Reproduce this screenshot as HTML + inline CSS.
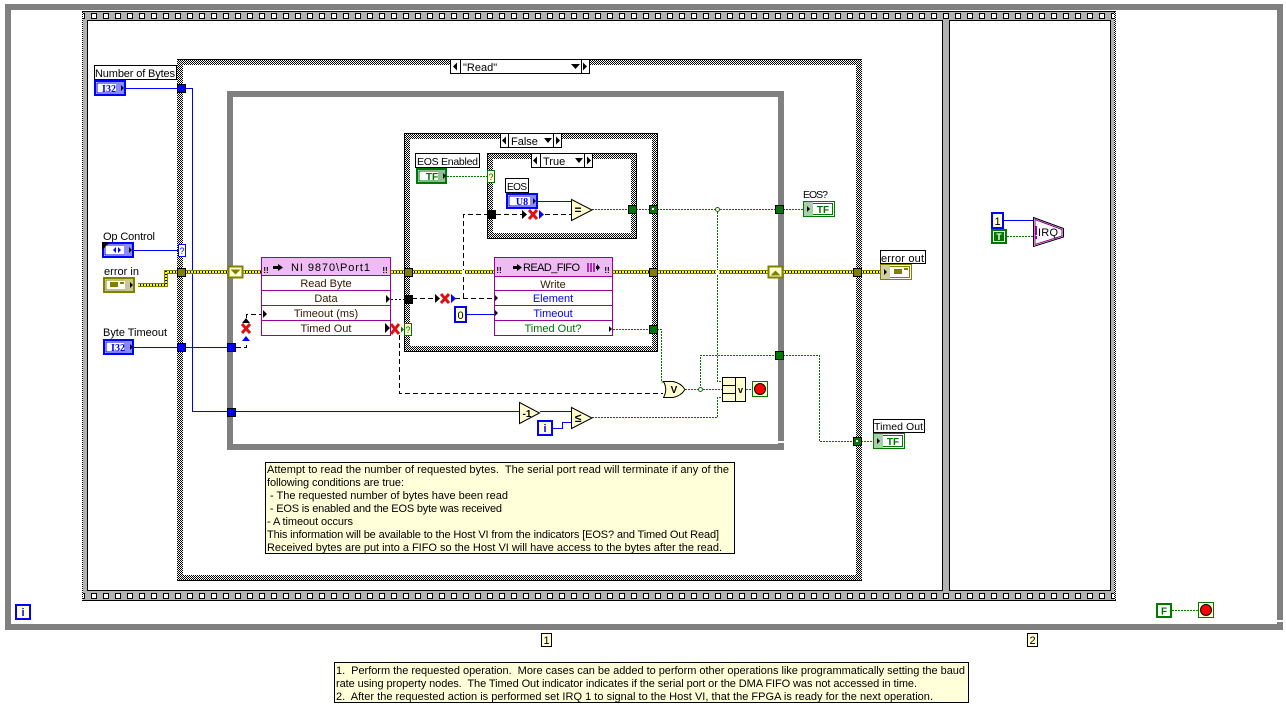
<!DOCTYPE html>
<html>
<head>
<meta charset="utf-8">
<style>
html,body{margin:0;padding:0;background:#fff;width:1286px;height:711px;overflow:hidden}
svg{display:block}
text{font-family:"Liberation Sans",sans-serif;font-size:11px;fill:#000;white-space:pre}
.c{text-anchor:middle}
.n{font-size:11px;fill:#000}
.b{fill:#0000ff}
.g{fill:#007000}
.tm{font-family:"Liberation Serif",serif;font-weight:bold;font-size:10px;text-anchor:middle}
.w,.d,.k{fill:none}
.w{stroke:#0000ff;stroke-width:1}
.d{stroke:#007800;stroke-width:1;stroke-dasharray:2 1}
.k{stroke:#000;stroke-width:1;stroke-dasharray:5 3}
.f{stroke:#000;stroke-width:1;stroke-dasharray:2 2}
.box{fill:#fff;stroke:#000}
.cm{fill:#ffffd9;stroke:#000}
.p{fill:#ffffd0;stroke:#000}
</style>
</head>
<body>
<svg width="1286" height="711" viewBox="0 0 1286 711" xmlns="http://www.w3.org/2000/svg">
<defs>
<pattern id="ch" width="2" height="2" patternUnits="userSpaceOnUse">
<rect width="2" height="2" fill="#fff" shape-rendering="crispEdges"/><rect width="1" height="1" fill="#000" shape-rendering="crispEdges"/><rect x="1" y="1" width="1" height="1" fill="#000" shape-rendering="crispEdges"/>
</pattern>
<pattern id="hT" x="943" y="12" width="12" height="8" patternUnits="userSpaceOnUse">
<rect x="0.5" y="1.5" width="5" height="5" fill="#fff" stroke="#000"/>
</pattern>
<pattern id="hB" x="943" y="592" width="12" height="8" patternUnits="userSpaceOnUse">
<rect x="0.5" y="1.5" width="5" height="5" fill="#fff" stroke="#000"/>
</pattern>
</defs>
<rect width="1286" height="711" fill="#fff"/>

<!-- outer while loop -->
<rect x="8" y="7" width="1272" height="620" fill="#fff" stroke="#808080" stroke-width="6" shape-rendering="crispEdges"/>
<rect x="1277" y="620" width="6" height="2" fill="#fff"/>

<!-- sequence -->
<rect x="82.500" y="11.500" width="1033" height="589" fill="#b2b2b2" stroke="#000" shape-rendering="crispEdges"/>
<rect x="83" y="12" width="1032" height="8" fill="url(#hT)"/>
<rect x="83" y="592" width="1032" height="8" fill="url(#hB)"/>
<rect x="82" y="12" width="1" height="588" fill="url(#ch)"/>
<rect x="1114" y="12" width="2" height="588" fill="url(#ch)"/>
<rect x="87.500" y="20.500" width="855" height="570" fill="#fff" stroke="#000" shape-rendering="crispEdges"/>
<rect x="949.500" y="20.500" width="161" height="570" fill="#fff" stroke="#000" shape-rendering="crispEdges"/>

<!-- case structure Read -->
<rect x="177" y="59" width="685" height="522" fill="url(#ch)"/>
<rect x="183" y="65" width="673" height="510" fill="#fff"/>
<path d="M177 59.500H862M177 580.500H862" stroke="#000"/>
<rect x="450.500" y="59.500" width="139" height="14" class="box"/>
<line x1="460.500" y1="60" x2="460.500" y2="73" stroke="#000"/><line x1="581.500" y1="60" x2="581.500" y2="73" stroke="#000"/>
<path d="M453 66.500l4-4v8zM587 66.500l-4-4v8zM571 64h9l-4.500 5z" fill="#000"/>
<text x="463" y="71">"Read"</text>

<!-- inner while loop -->
<rect x="230" y="94" width="551" height="353" fill="none" stroke="#808080" stroke-width="6" shape-rendering="crispEdges"/>
<rect x="778" y="441" width="6" height="2" fill="#fff"/>

<!-- false case -->
<rect x="404.500" y="133.500" width="253" height="218" fill="url(#ch)" stroke="#000"/>
<rect x="410" y="139" width="242" height="207" fill="#fff"/>
<rect x="500.500" y="133.500" width="61" height="14" class="box"/>
<line x1="508.500" y1="134" x2="508.500" y2="147" stroke="#000"/><line x1="553.500" y1="134" x2="553.500" y2="147" stroke="#000"/>
<path d="M502 140.500l4-4v8zM560 140.500l-4-4v8zM544 138h8l-4 5z" fill="#000"/>
<text x="511" y="145">False</text>

<!-- true case -->
<rect x="487.500" y="153.500" width="149" height="85" fill="url(#ch)" stroke="#000"/>
<rect x="493" y="159" width="138" height="74" fill="#fff"/>
<rect x="531.500" y="153.500" width="61" height="14" class="box"/>
<line x1="540.500" y1="154" x2="540.500" y2="167" stroke="#000"/><line x1="584.500" y1="154" x2="584.500" y2="167" stroke="#000"/>
<path d="M533 160.500l4-4v8zM591 160.500l-4-4v8zM575 158h8l-4 5z" fill="#000"/>
<text x="543" y="165">True</text>

<!-- blue wires -->
<path class="w" d="M125 88.500H192.500V411.500H520"/>
<path class="w" d="M132 250.500H178"/>
<path class="w" d="M134 347.500H228"/>
<path class="w" d="M538 201.500H571"/>
<path class="w" d="M467 314.500H494"/>
<path class="w" d="M540 411.500H571"/>
<path class="w" d="M553 428.500H562.500V422.500H571"/>
<path class="w" d="M1003 220.500H1033"/>

<!-- green wires -->
<path class="d" d="M447 176.500H487"/>
<path class="d" d="M592 209.500H628"/>
<path class="d" d="M636 209.500H649"/>
<path class="d" d="M657 209.500H775"/>
<path class="d" d="M783 209.500H803"/>
<path class="d" d="M717.500 209V381.500H722"/>
<path class="d" d="M613 329.500H649"/>
<path class="d" d="M657 329.500H661.500V382H665"/>
<path class="d" d="M685 389.500H722"/>
<path class="d" d="M700.500 389V355.500H775"/>
<path class="d" d="M783 355.500H819.500V441.500H853"/>
<path class="d" d="M861 441.500H873"/>
<path class="d" d="M592 417.500H717.500V397.500H722"/>
<path class="d" d="M746 389.500H752"/>
<path class="d" d="M1007 236.500H1033"/>
<path class="d" d="M1172 610.500H1198"/>

<!-- black wires -->
<path class="f" d="M391 299.500H404"/>
<path class="k" d="M412 298.500H437"/>
<path class="k" d="M455 298.500H494"/>
<path class="k" d="M463.500 298V214.500H487"/>
<path class="k" d="M496 214.500H522"/>
<path class="k" d="M545 214.500H571"/>
<path class="k" d="M236 347.500H246.500V342"/>
<path class="k" d="M246.500 318V314.500H261"/>
<path class="k" d="M399.500 335V393.500H663"/>

<!-- error wire -->
<path d="M138 285H166V272H228M243 272H261M391 272H494M613 272H768M783 272H880" fill="none" stroke="#808000" stroke-width="4"/>
<path d="M138 285H166V272H228M243 272H261M391 272H494M613 272H768M783 272H880" fill="none" stroke="#000" stroke-width="2"/>
<path d="M138 285H166V272H228M243 272H261M391 272H494M613 272H768M783 272H880" fill="none" stroke="#ffff00" stroke-width="2" stroke-dasharray="2 1"/>
<rect x="462" y="270" width="3" height="4" fill="#fff"/>
<rect x="716" y="270" width="3" height="4" fill="#fff"/>

<!-- tunnels -->
<g stroke="#000" shape-rendering="crispEdges">
<rect x="177.500" y="84.500" width="8" height="8" fill="#0000ff"/>
<rect x="177.500" y="268.500" width="8" height="8" fill="#808000"/>
<rect x="177.500" y="343.500" width="8" height="8" fill="#0000ff"/>
<rect x="227.500" y="343.500" width="8" height="8" fill="#0000ff"/>
<rect x="227.500" y="408.500" width="8" height="8" fill="#0000ff"/>
<rect x="404.500" y="268.500" width="8" height="8" fill="#808000"/>
<rect x="649.500" y="268.500" width="8" height="8" fill="#808000"/>
<rect x="404.500" y="295.500" width="8" height="8" fill="#000"/>
<rect x="487.500" y="210.500" width="8" height="8" fill="#000"/>
<rect x="628.500" y="205.500" width="8" height="8" fill="#007800"/>
<rect x="649.500" y="205.500" width="8" height="8" fill="#007800"/>
<rect x="649.500" y="325.500" width="8" height="8" fill="#007800"/>
<rect x="775.500" y="205.500" width="8" height="8" fill="#007800"/>
<rect x="775.500" y="351.500" width="8" height="8" fill="#007800"/>
<rect x="853.500" y="437.500" width="8" height="8" fill="#007800"/>
<rect x="853.500" y="268.500" width="8" height="8" fill="#808000"/>
</g>
<rect x="652" y="208" width="2" height="2" fill="#fff"/>
<rect x="856" y="440" width="2" height="2" fill="#fff"/>
<circle cx="717.500" cy="209.500" r="2" fill="#fff" stroke="#007800"/>
<circle cx="700.500" cy="389.500" r="2" fill="#fff" stroke="#007800"/>

<!-- selector terminals -->
<rect x="178.500" y="244.500" width="7" height="12" fill="#fff" stroke="#0000ff"/>
<text x="182" y="254" class="c b" style="font-size:9px">?</text>
<rect x="487.500" y="170.500" width="7" height="12" fill="#ffffd0" stroke="#007800"/>
<text x="491" y="180" class="c g" style="font-size:9px">?</text>
<rect x="404.500" y="323.500" width="7" height="12" fill="#ffffd0" stroke="#007800"/>
<text x="408" y="333" class="c g" style="font-size:9px">?</text>
<path d="M404 329.500l-3-3v6z" fill="#007800"/>

<!-- shift registers -->
<rect x="228.500" y="266.500" width="14" height="11" fill="#ffffd0" stroke="#808000" stroke-width="2"/>
<path d="M230.500 269.500h10l-5 5z" fill="#808000"/>
<rect x="768.500" y="266.500" width="14" height="11" fill="#ffffd0" stroke="#808000" stroke-width="2"/>
<path d="M770.500 275.500h10l-5-5z" fill="#808000"/>

<!-- serial node -->
<rect x="261.500" y="257.500" width="129" height="78" fill="#fff" stroke="#990099"/>
<rect x="262" y="258" width="128" height="17" fill="#eebbf5"/>
<path d="M262 275.500H390M262 290.500H390M262 305.500H390M262 320.500H390" stroke="#990099"/>
<path d="M273 266h5v-2l5 3.500-5 3.500v-2h-5z" fill="#000"/>
<text x="266" y="273" class="c" style="font-size:8px;font-weight:bold">!!</text>
<text x="385" y="273" class="c" style="font-size:8px;font-weight:bold">!!</text>
<text x="291" y="271" textLength="79">NI 9870\Port1</text>
<text x="326" y="287" class="c" style="fill:#331a00">Read Byte</text>
<text x="326" y="302" class="c" style="fill:#331a00">Data</text>
<text x="326" y="317" class="c" style="fill:#331a00">Timeout (ms)</text>
<text x="326" y="332" class="c" style="fill:#331a00">Timed Out</text>
<path d="M386 295v8l4-4zM263 310v8l4-4zM385 323v10l5-5z" fill="#000"/>

<!-- FIFO node -->
<rect x="494.500" y="257.500" width="118" height="78" fill="#fff" stroke="#990099"/>
<rect x="495" y="258" width="117" height="18" fill="#eebbf5"/>
<path d="M495 276.500H612M495 290.500H612M495 305.500H612M495 320.500H612" stroke="#990099"/>
<path d="M513 266h4v-2l5 3.500-5 3.500v-2h-4z" fill="#000"/>
<text x="523" y="271" textLength="57">READ_FIFO</text>
<path d="M588 263v9M591 263v9M594 263v9" stroke="#990099" stroke-width="1.500"/>
<path d="M596 266h1v-2l3 3.500-3 3.500v-2h-1z" fill="#000"/>
<text x="499" y="273" class="c" style="font-size:8px;font-weight:bold">!!</text>
<text x="607" y="273" class="c" style="font-size:8px;font-weight:bold">!!</text>
<text x="553" y="288" class="c" style="fill:#331a00">Write</text>
<text x="553" y="302" class="c b">Element</text>
<text x="553" y="317" class="c b">Timeout</text>
<text x="553" y="332" class="c g">Timed Out?</text>
<path d="M495 295v6l3-3zM495 310v6l3-3zM609 326v6l3-3z" fill="#000"/>

<!-- coercion X marks -->
<path d="M242 324l8 9M250 324l-8 9" stroke="#e01010" stroke-width="3"/>
<path d="M246 318l-4 5h8z" fill="#000"/><path d="M246 336l-4 5h8z" fill="#0000ff"/>
<path d="M391 324l8 10M399 324l-8 10" stroke="#e01010" stroke-width="3"/>
<path d="M441 294l8 9M449 294l-8 9" stroke="#e01010" stroke-width="3"/>
<path d="M435 294v9l5-4.500z" fill="#000"/><path d="M451 294v9l5-4.500z" fill="#0000ff"/>
<path d="M529 210l8 9M537 210l-8 9" stroke="#e01010" stroke-width="3"/>
<path d="M522 210v9l5-4.500z" fill="#000"/><path d="M539 210v9l5-4.500z" fill="#0000ff"/>

<!-- primitives -->
<path class="p" d="M571.500 199.500V220.500L592 210z"/>
<text x="578" y="214" class="c" style="font-weight:bold;font-size:12px">=</text>
<path class="p" d="M519.500 402.500V423.500L539.500 413z"/>
<text x="527" y="417" class="c" style="font-weight:bold;font-size:10px">-1</text>
<path class="p" d="M571.500 407.500V428.500L592 418z"/>
<text x="578" y="422" class="c" style="font-weight:bold;font-size:12px">≤</text>
<path class="p" d="M663.500 381.500H673Q681 383 685 389.500Q681 396 673 397.500H663.500Q668 389.500 663.500 381.500z"/>
<text x="674" y="393" class="c" style="font-weight:bold;font-size:10px">V</text>
<rect x="722.500" y="377.500" width="23" height="24" fill="#ffffd0" stroke="#000"/>
<path d="M735.500 378V401M723 385.500H735M723 393.500H735" stroke="#000"/>
<text x="740.500" y="393" class="c" style="font-size:9px;font-weight:bold">v</text>

<!-- stop terminals -->
<rect x="752.500" y="381.500" width="15" height="15" fill="#ffffd0" stroke="#007800"/>
<circle cx="760" cy="389" r="5.500" fill="#f00" stroke="#000"/>
<rect x="1198.500" y="602.500" width="15" height="15" fill="#ffffd0" stroke="#007800"/>
<circle cx="1206" cy="610" r="5.500" fill="#f00" stroke="#000"/>

<!-- iteration terminals & constants -->
<rect x="16" y="605" width="14" height="14" fill="#ffffd0" stroke="#0000ff" stroke-width="2"/>
<text x="23" y="616" class="c b" style="font-weight:bold;font-size:11px">i</text>
<rect x="538" y="421" width="14" height="14" fill="#ffffd0" stroke="#0000ff" stroke-width="2"/>
<text x="545" y="432" class="c b" style="font-weight:bold;font-size:11px">i</text>
<rect x="455" y="307" width="11" height="15" fill="#ffffd9" stroke="#0000ff" stroke-width="2"/>
<text x="460.500" y="319" class="c">0</text>
<rect x="992" y="213" width="11" height="15" fill="#ffffd9" stroke="#0000ff" stroke-width="2"/>
<text x="997.500" y="225" class="c">1</text>
<rect x="992" y="230" width="14" height="13" fill="#fff" stroke="#007800" stroke-width="2"/>
<rect x="994" y="232" width="10" height="9" fill="#007800"/>
<text x="999" y="240" class="c" style="font-weight:bold;font-size:9px;fill:#fff">T</text>
<rect x="1157" y="604" width="14" height="13" fill="#fff" stroke="#007800" stroke-width="2"/>
<text x="1164" y="614.500" class="c g" style="font-weight:bold;font-size:10px">F</text>

<!-- IRQ -->
<path d="M1033.500 217.500L1063.500 228.500V237L1033.500 246.500z" fill="#fff" stroke="#000" stroke-width="1"/>
<path d="M1035 219.500L1062 229.500V236L1035 244.500z" fill="none" stroke="#990099"/>
<rect x="1035" y="226" width="2" height="9" fill="#990099"/><rect x="1035" y="236" width="2" height="3" fill="#990099"/>
<text x="1038" y="236" textLength="20">IRQ</text>

<!-- front panel terminals -->
<!-- Number of Bytes -->
<rect x="94.500" y="65.500" width="82" height="14" class="box"/>
<text x="95" y="77" textLength="80">Number of Bytes</text>
<rect x="95" y="81" width="30" height="14" fill="#fff" stroke="#0000ff" stroke-width="2"/>
<rect x="97" y="83" width="26" height="10" fill="none" stroke="#0000ff"/>
<rect x="116" y="82" width="8" height="12" fill="#8a8aff"/>
<text x="109" y="92" class="tm b">I32</text>
<path d="M121 85v6l3-3z" fill="#000"/>

<!-- Op Control -->
<text x="103" y="240" textLength="52">Op Control</text>
<rect x="103" y="243" width="30" height="14" fill="#fff" stroke="#0000ff" stroke-width="2"/>
<rect x="105" y="245" width="26" height="10" fill="none" stroke="#0000ff"/>
<rect x="124" y="244" width="8" height="12" fill="#8a8aff"/>
<path d="M102 242h8l-8 8z" fill="#000"/>
<path d="M116 247l-3 3 3 3zM118 247l3 3-3 3z" fill="#0000ff"/>
<path d="M129 247v6l3-3z" fill="#000"/>

<!-- error in -->
<text x="104" y="275" textLength="35">error in</text>
<rect x="104" y="278" width="30" height="14" fill="#fff" stroke="#808000" stroke-width="2"/>
<rect x="106" y="280" width="26" height="10" fill="none" stroke="#808000"/>
<rect x="125" y="279" width="8" height="12" fill="#c8c890"/>
<rect x="110" y="282" width="8" height="5" fill="#808000"/><rect x="120" y="282" width="4" height="2" fill="#808000"/>
<path d="M130 282v6l3-3z" fill="#000"/>

<!-- Byte Timeout -->
<text x="103" y="336" textLength="64">Byte Timeout</text>
<rect x="104" y="340" width="29" height="14" fill="#fff" stroke="#0000ff" stroke-width="2"/>
<rect x="106" y="342" width="25" height="10" fill="none" stroke="#0000ff"/>
<rect x="124" y="341" width="8" height="12" fill="#8a8aff"/>
<text x="118" y="351" class="tm b">I32</text>
<path d="M130 344v6l3-3z" fill="#000"/>

<!-- EOS Enabled -->
<rect x="415.500" y="153.500" width="64" height="14" class="box"/>
<text x="417" y="165" textLength="61" style="font-size:10.500px">EOS Enabled</text>
<rect x="417" y="169" width="29" height="14" fill="#fff" stroke="#007800" stroke-width="2"/>
<rect x="419" y="171" width="25" height="10" fill="none" stroke="#007800"/>
<rect x="438" y="170" width="7" height="12" fill="#8fc08f"/>
<text x="432" y="180" class="c g" style="font-weight:bold;font-size:10px">TF</text>
<path d="M443 173v6l3-3z" fill="#000"/>

<!-- EOS -->
<rect x="505.500" y="178.500" width="23" height="14" class="box"/>
<text x="507" y="190" textLength="20" style="font-size:10px">EOS</text>
<rect x="507" y="194" width="30" height="14" fill="#fff" stroke="#0000ff" stroke-width="2"/>
<rect x="509" y="196" width="26" height="10" fill="none" stroke="#0000ff"/>
<rect x="530" y="195" width="6" height="12" fill="#8a8aff"/>
<text x="522" y="205" class="tm b">U8</text>
<path d="M533 198v6l3-3z" fill="#000"/>

<!-- EOS? -->
<text x="803" y="198" textLength="25" style="font-size:10.500px">EOS?</text>
<rect x="803.500" y="201.500" width="31" height="15" fill="#fff" stroke="#007800"/>
<rect x="805.500" y="203.500" width="27" height="11" fill="none" stroke="#007800"/>
<rect x="804" y="202" width="9" height="14" fill="#a8d0a8"/>
<path d="M807 206v6l3-3z" fill="#000"/>
<text x="823" y="213" class="c g" style="font-weight:bold;font-size:10px">TF</text>

<!-- error out -->
<rect x="880.500" y="250.500" width="45" height="13" class="box"/>
<text x="881" y="262" textLength="43">error out</text>
<rect x="880.500" y="264.500" width="31" height="15" fill="#fff" stroke="#808000"/>
<rect x="882.500" y="266.500" width="27" height="11" fill="none" stroke="#808000"/>
<rect x="881" y="265" width="9" height="14" fill="#d0d0a0"/>
<path d="M884 269v6l3-3z" fill="#000"/>
<rect x="894" y="269" width="8" height="5" fill="#808000"/><rect x="904" y="268" width="4" height="2" fill="#808000"/>

<!-- Timed Out -->
<rect x="873.500" y="419.500" width="51" height="13" class="box"/>
<text x="874" y="430" textLength="49" style="font-size:10.500px">Timed Out</text>
<rect x="873.500" y="433.500" width="31" height="15" fill="#fff" stroke="#007800"/>
<rect x="875.500" y="435.500" width="27" height="11" fill="none" stroke="#007800"/>
<rect x="874" y="434" width="9" height="14" fill="#a8d0a8"/>
<path d="M877 438v6l3-3z" fill="#000"/>
<text x="893" y="445" class="c g" style="font-weight:bold;font-size:10px">TF</text>

<!-- comments -->
<rect x="265.500" y="462.500" width="469" height="91" class="cm"/>
<text class="n" x="267" y="473" textLength="462">Attempt to read the number of requested bytes.  The serial port read will terminate if any of the</text>
<text class="n" x="267" y="486" textLength="137">following conditions are true:</text>
<text class="n" x="267" y="499" textLength="241"> - The requested number of bytes have been read</text>
<text class="n" x="267" y="512" textLength="235"> - EOS is enabled and the EOS byte was received</text>
<text class="n" x="267" y="525" textLength="86">- A timeout occurs</text>
<text class="n" x="267" y="538" textLength="452">This information will be available to the Host VI from the indicators [EOS? and Timed Out Read]</text>
<text class="n" x="267" y="551" textLength="455">Received bytes are put into a FIFO so the Host VI will have access to the bytes after the read.</text>

<rect x="334.500" y="662.500" width="634" height="40" class="cm"/>
<text class="n" x="336" y="674" textLength="629">1.  Perform the requested operation.  More cases can be added to perform other operations like programmatically setting the baud</text>
<text class="n" x="336" y="687" textLength="581">rate using property nodes.  The Timed Out indicator indicates if the serial port or the DMA FIFO was not accessed in time.</text>
<text class="n" x="336" y="700" textLength="597">2.  After the requested action is performed set IRQ 1 to signal to the Host VI, that the FPGA is ready for the next operation.</text>

<!-- frame numbers -->
<rect x="541.500" y="633.500" width="10" height="13" class="cm"/>
<text x="546.500" y="644" class="c">1</text>
<rect x="1027.500" y="633.500" width="10" height="13" class="cm"/>
<text x="1032.500" y="644" class="c">2</text>
</svg>
</body>
</html>
